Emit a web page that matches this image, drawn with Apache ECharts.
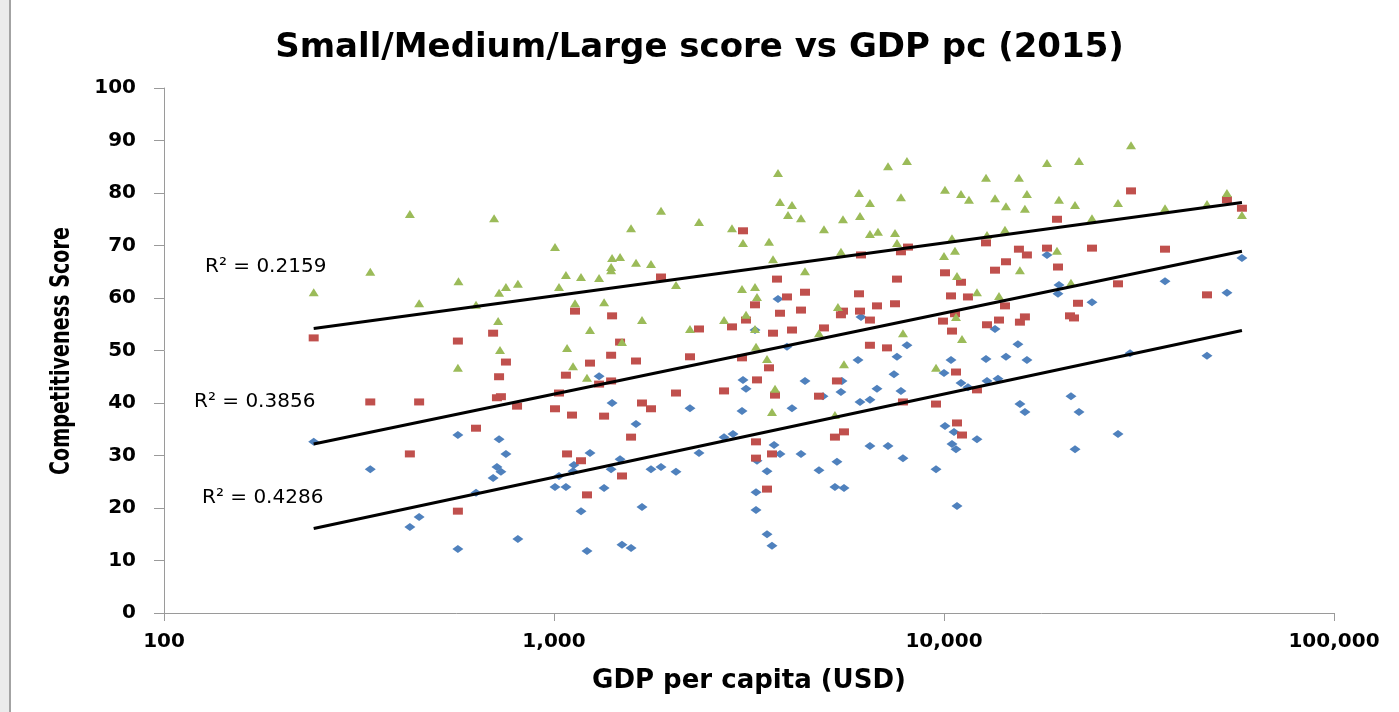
<!DOCTYPE html>
<html>
<head>
<meta charset="utf-8">
<script src="https://cdn.jsdelivr.net/npm/echarts@6/dist/echarts.min.js"></script>
<style>
html,body{margin:0;padding:0;background:#fff;}
#chart{width:1399px;height:712px;}
</style>
</head>
<body>
<div id="chart"></div>
<script>
// ---- Data (GDP per capita in USD, score 0-100) ----
const smallGdp = [242,338,451,427,567,567,723,753,714,731,
  698,631,808,1305,1409,1623,1237,1125,1119,1030,
  1006,1073,1477,1401,1344,1173,1681,1215,1494,1576,
  1773,1881,2055,2232,2354,2729,2877,3034,3052,3107,
  3753,6126,3276,13514,8036,3957,15473,6019,7576,4401,
  5475,5442,4894,7443,6732,7756,6090,6458,4076,10421,
  10000,11055,11520,12816,14420,16316,12892,13755,15657,16125,
  3666,3797,4298,3315,3517,4780,5315,6458,7185,7848,
  9540,10059,10607,10483,10734,12149,5253,5540,3296,3296,
  3517,3622,10797,18370,58070,36870,53150,19718,19601,23957,
  29992,47240,21166,22188,27933,21672];
const smallScore = [32.6,27.4,18.3,16.4,33.9,12.2,33.1,30.3,27.8,26.9,
  25.7,22.9,14.1,45.1,40.0,36.0,30.5,28.2,27.0,26.1,
  24.0,24.0,29.3,27.4,23.8,19.4,20.2,11.8,13.0,12.4,
  27.4,27.8,26.9,39.0,30.5,33.5,34.1,38.5,44.4,42.7,
  59.8,56.4,53.9,54.1,51.0,50.7,51.2,48.2,48.8,44.2,
  44.2,42.1,41.3,45.5,42.7,42.3,40.2,40.6,39.0,48.2,
  45.7,43.8,43.0,48.4,48.8,48.2,44.2,44.6,39.8,38.3,
  32.0,30.3,30.3,29.0,27.0,27.2,28.8,31.8,31.8,29.5,
  27.4,35.6,34.5,32.2,31.2,33.1,24.0,23.8,23.0,19.6,
  15.0,12.8,20.4,68.2,67.6,63.2,61.0,62.5,60.8,59.2,
  49.5,49.0,41.3,38.3,34.1,31.2];

const mediumGdp = [242,338,451,427,567,567,698,753,723,714,
  731,804,631,1132,1073,1237,1409,1401,1477,1623,
  1881,2232,2354,2860,3052,3107,3034,1030,1006,1112,
  1305,1401,1344,1681,1773,2055,2729,1576,1080,1173,
  1494,1215,3731,3957,4401,3276,3797,4298,4076,3644,
  4923,5442,5508,6055,6090,6458,6732,7487,7576,6126,
  7756,8084,6458,7142,10059,11055,10421,11520,9941,10670,
  10483,12816,13514,14420,15565,16316,14335,13836,12892,16125,
  15657,3559,3315,3687,5315,4780,10734,12149,9540,7848,
  10797,11120,5540,5253,3296,3622,3296,3517,30169,53150,
  58070,19486,18370,23957,36870,19601,27933,47240,22057,21041,21544];
const mediumScore = [52.4,40.2,40.2,30.3,51.8,19.4,53.3,47.8,45.0,41.0,
  41.2,39.4,35.2,57.5,45.3,47.6,56.6,49.1,51.6,48.0,
  64.0,48.8,54.1,54.5,72.8,55.8,48.6,41.9,38.9,37.7,
  43.6,44.2,37.5,40.0,38.9,41.9,42.3,33.5,30.3,29.0,
  26.1,22.5,63.6,60.2,61.1,58.7,57.1,57.7,53.9,53.3,
  54.3,56.8,57.5,60.8,57.5,55.8,58.5,58.9,63.6,68.2,
  68.8,69.7,51.0,50.5,64.8,63.0,60.4,60.2,55.6,57.0,
  53.7,70.5,65.3,66.9,69.3,68.2,58.5,55.8,54.9,56.4,
  55.4,46.7,44.4,41.5,44.2,41.3,45.9,42.5,39.8,40.2,
  36.2,33.9,34.5,33.5,32.6,30.3,29.5,23.6,80.4,78.7,
  77.1,75.0,69.5,69.5,69.3,65.9,62.7,60.6,59.0,56.6,56.2];

const largeGdp = [242,338,427,451,569,567,702,631,723,753,
  808,719,727,1006,1073,1030,1173,1132,1237,1080,
  1119,1215,1305,1344,1409,1477,1401,1401,1494,1576,
  1623,1773,1681,1881,2055,2232,2354,2729,2860,3052,
  3034,3107,3296,3753,3797,4076,3981,4298,3559,3644,
  4401,3276,3315,3276,3517,3687,3622,4923,5508,6055,
  6458,6090,6458,6772,7185,8036,7756,7487,7576,5442,
  5347,4780,7848,5540,5253,10059,11055,11588,12816,13514,
  14420,15565,16316,16125,10483,12892,14335,10000,10670,10797,
  15657,12149,13836,10734,11120,9540,18370,22188,30169,19718,
  21672,27933,23957,36870,47240,53150,58070,19486,21166];
const largeScore = [61.1,65.0,76.0,59.0,63.2,46.7,75.2,58.7,61.0,62.1,
  62.7,55.6,50.1,69.7,64.4,62.1,64.0,59.0,53.9,50.5,
  47.0,44.8,63.8,59.2,67.6,67.8,65.9,65.3,51.6,73.3,
  66.7,66.5,55.8,76.6,62.5,54.1,74.5,55.8,73.3,70.5,
  61.7,56.8,50.7,83.8,78.3,77.7,75.8,75.2,70.7,67.4,
  65.1,62.1,60.2,54.1,48.4,42.7,38.3,73.1,75.0,80.0,
  78.1,75.6,72.2,72.6,85.1,86.1,79.2,72.4,70.5,68.8,
  58.3,53.3,53.3,47.4,37.7,80.6,79.8,78.7,82.9,79.0,
  77.5,82.9,79.8,77.0,71.4,72.0,73.0,68.0,69.0,64.2,
  65.3,61.1,60.4,56.4,52.2,46.7,85.7,86.1,89.1,78.7,
  77.7,78.1,75.2,77.1,77.9,80.0,75.8,69.0,62.9];

// Trend line end points (logarithmic fits, straight on the log axis)
const trendGdp = [242, 58070];
const smallTrend = [16.1, 53.8];
const mediumTrend = [32.2, 68.9];
const largeTrend = [54.2, 78.2];

const r2Labels = ['R\u00B2 = 0.2159', 'R\u00B2 = 0.3856', 'R\u00B2 = 0.4286'];
const yTicks = [0,10,20,30,40,50,60,70,80,90,100];

const zip = (xs, ys) => xs.map((x, i) => [x, ys[i]]);

const chart = echarts.init(document.getElementById('chart'), null, {renderer: 'canvas'});
const axisCol = '#9a9a9a';
const txt = '#000';
const FONT = 'DejaVu Sans';

function scatter(name, data, symbol, size, color) {
  return {name, type: 'scatter', data, symbol, symbolSize: size,
    itemStyle: {color, opacity: 1}, z: 2, silent: true, animation: false};
}
function trend(data) {
  return {type: 'line', data, symbol: 'none', z: 5, silent: true, animation: false,
    lineStyle: {color: '#000', width: 3}};
}

chart.setOption({
  backgroundColor: '#fff',
  animation: false,
  title: {
    text: 'Small/Medium/Large score vs GDP pc (2015)',
    left: 'center', top: 26,
    textStyle: {fontFamily: FONT, fontSize: 34, fontWeight: 'bold', color: txt}
  },
  grid: {left: 164, right: 65, top: 88, bottom: 99, containLabel: false},
  xAxis: {
    type: 'log', logBase: 10, min: 100, max: 100000,
    axisLine: {show: true, lineStyle: {color: axisCol, width: 1}},
    axisTick: {show: true, length: 8, lineStyle: {color: axisCol}},
    minorTick: {show: false},
    splitLine: {show: false},
    axisLabel: {
      margin: 19, fontFamily: FONT, fontSize: 20, fontWeight: 'bold', color: txt,
      formatter: v => Math.round(v).toLocaleString('en-US')
    },
    name: 'GDP per capita (USD)', nameLocation: 'middle', nameGap: 55,
    nameTextStyle: {fontFamily: FONT, fontSize: 26, fontWeight: 'bold', color: txt}
  },
  yAxis: {
    type: 'value', min: 0, max: 100, interval: 10,
    axisLine: {show: true, lineStyle: {color: axisCol, width: 1}},
    axisTick: {show: true, length: 10, lineStyle: {color: axisCol}},
    splitLine: {show: false},
    axisLabel: {
      margin: 28, fontFamily: FONT, fontSize: 20, fontWeight: 'bold', color: txt,
      formatter: v => yTicks.includes(v) ? String(v) : ''
    }
  },
  graphic: [
    {type: 'rect', shape: {x: 0, y: 0, width: 9, height: 712}, style: {fill: '#ebebeb'}, silent: true},
    {type: 'rect', shape: {x: 9, y: 0, width: 2, height: 712}, style: {fill: '#a3a3a3'}, silent: true},
    {type: 'text', x: 62, y: 351, rotation: Math.PI / 2, scaleX: 0.82, scaleY: 1,
      style: {text: 'Competitiveness Score', fontFamily: 'DejaVu Sans Condensed, DejaVu Sans, sans-serif',
        fontSize: 26, fontWeight: 'bold', fill: txt, textAlign: 'center', textVerticalAlign: 'middle'}},
    {type: 'text', x: 205, y: 267,
      style: {text: r2Labels[0], fontFamily: FONT, fontSize: 20, fill: txt, textAlign: 'left', textVerticalAlign: 'middle'}},
    {type: 'text', x: 194, y: 402,
      style: {text: r2Labels[1], fontFamily: FONT, fontSize: 20, fill: txt, textAlign: 'left', textVerticalAlign: 'middle'}},
    {type: 'text', x: 202, y: 498,
      style: {text: r2Labels[2], fontFamily: FONT, fontSize: 20, fill: txt, textAlign: 'left', textVerticalAlign: 'middle'}}
  ],
  series: [
    scatter('Small', zip(smallGdp, smallScore), 'diamond', [11, 8], '#4F81BD'),
    scatter('Medium', zip(mediumGdp, mediumScore), 'rect', [10, 7], '#C0504D'),
    scatter('Large', zip(largeGdp, largeScore), 'triangle', [10, 8], '#9BBB59'),
    trend(zip(trendGdp, largeTrend)),
    trend(zip(trendGdp, mediumTrend)),
    trend(zip(trendGdp, smallTrend))
  ]
});
</script>
</body>
</html>
